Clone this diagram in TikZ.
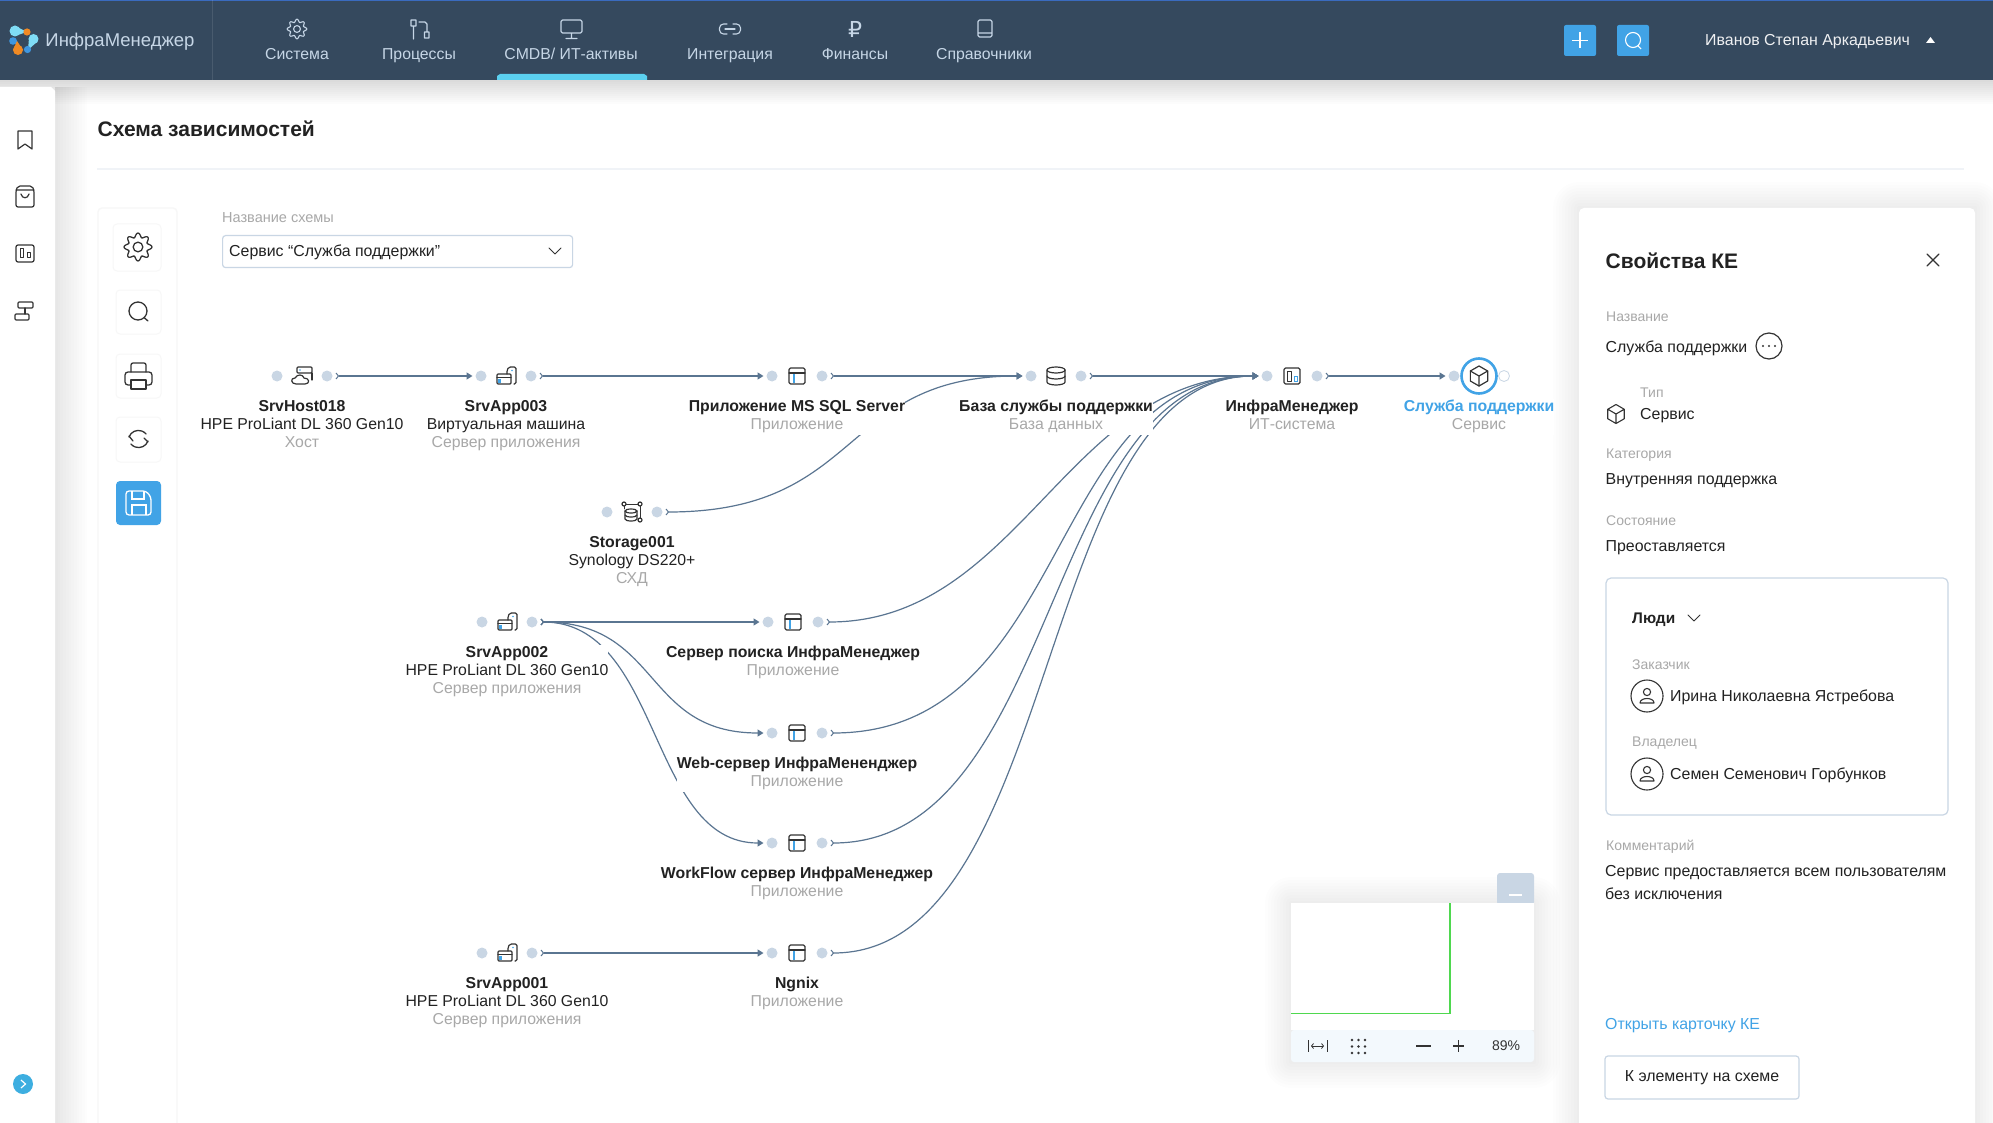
\documentclass[tikz,border=0pt]{standalone}
\usepackage{fontspec}
\setmainfont{Liberation Sans}
\newfontfamily\symfont{DejaVu Sans}
\usetikzlibrary{arrows.meta,positioning}
\definecolor{navbg}{HTML}{35495E}
\definecolor{navtext}{HTML}{C6D6E6}
\definecolor{topline}{HTML}{3A6BBF}
\definecolor{accent}{HTML}{41A3E6}
\definecolor{linkline}{HTML}{5A7591}
\definecolor{portdot}{HTML}{C9D6E4}
\definecolor{inktext}{HTML}{222222}
\definecolor{greytext}{HTML}{A8A8A8}
\definecolor{icoline}{HTML}{333333}
\definecolor{logocyan}{HTML}{7FDCF5}
\definecolor{logoblue}{HTML}{3F97E0}
\definecolor{logoorange}{HTML}{F08A24}
\definecolor{tabblue}{HTML}{5BD0F0}
\definecolor{hintblue}{HTML}{3DAEE0}
\definecolor{rulegrey}{HTML}{F0F3F7}
\definecolor{mapgreen}{HTML}{4FD84F}
\definecolor{footbg}{HTML}{F3F9FD}
\newcommand{\fs}[1]{\fontsize{#1}{18}\selectfont}
\newcommand{\softshadow}[4]{%
  \foreach \sz in {26,23,...,2}
  {
    \fill[black,opacity=.007,rounded corners=\sz pt] (#1-\sz,#2-\sz) rectangle (#3+\sz,#4+\sz);
  }
}
\tikzset{
  port/.style={circle, fill=portdot, minimum size=11pt, inner sep=0, outer sep=3pt},
  cilabel/.style={fill=white, inner xsep=0, inner ysep=0, align=center, anchor=north, font=\fs{15.8}, text=inktext},
  straightlink/.style={draw=linkline, line width=1.4pt, {Straight Barb[reversed,length=2.5pt,width=6pt,line width=1pt]}-{Triangle[length=6pt,width=7pt]}},
  curvelink/.style={draw=linkline, line width=1.2pt, {Straight Barb[reversed,length=2.5pt,width=6pt,line width=1pt]}-{Triangle[length=6pt,width=7pt]}},
  navitem/.style={text=navtext, font=\fs{15.8}},
  fieldcap/.style={text=greytext, font=\fs{14}, anchor=west, inner sep=0},
  fieldval/.style={text=inktext, font=\fs{15.9}, anchor=west, inner sep=0},
  toolbtn/.style={fill=white, draw=black!3, line width=1pt, rounded corners=4pt},
  ico/.style={draw=icoline, line width=1.2pt, line join=round, line cap=round},
  navico/.style={draw=navtext, line width=1.1pt, line join=round, line cap=round},
  pics/winicon/.style={code={
    \draw[ico, rounded corners=1.5pt] (-8,-8) rectangle (8,8);
    \draw[ico] (-8,-3) -- (8,-3);
    \draw[accent, line width=1.1pt] (-3,-2) -- (-3,7);
  }},
  pics/dbicon/.style={code={
    \draw[ico] (0,-6) ellipse (9 and 3);
    \draw[ico] (-9,-6) -- (-9,6) arc[start angle=180,end angle=360,x radius=9,y radius=-3] -- (9,-6);
    \draw[ico] (-9,0) arc[start angle=180,end angle=360,x radius=9,y radius=-3];
  }},
  pics/sysicon/.style={code={
    \draw[ico, rounded corners=1.5pt] (-8,-8) rectangle (8,8);
    \draw[ico, line width=1pt] (-4.5,-5) rectangle (-1,5);
    \draw[accent, line width=1pt] (2,0) rectangle (5,5);
  }},
  pics/cubeicon/.style={code={
    \draw[ico] (90:10) -- (30:10) -- (-30:10) -- (-90:10) -- (-150:10) -- (150:10) -- cycle;
    \draw[ico] (-150:10) -- (0,0) -- (-30:10) (0,0) -- (90:10);
  }},
  pics/appicon/.style={code={
    \draw[ico, rounded corners=1pt] (-9,-2) rectangle (5,8);
    \draw[ico] (-9,1.5) -- (5,1.5);
    \fill[accent] (-8,2.5) rectangle (-5,7);
    \draw[ico, rounded corners=1.5pt] (1,-2) -- (1,-6) -- (3,-9) -- (10,-9) -- (10,8) -- (8,8);
    \fill[accent] (6,-5.5) circle (.8);
  }},
  pics/hosticon/.style={code={
    \draw[ico, rounded corners=1pt] (-5,-9) rectangle (10,-3);
    \draw[ico] (10,-3) -- (10,4);
    \draw[ico] (-6,8) .. controls (-11,8) and (-12,2) .. (-7,2) .. controls (-5,-2) and (1,-2) .. (2,2) .. controls (8,2) and (8,8) .. (3,8) -- cycle;
    \fill[accent] (-2,-6) circle (.8);
  }},
  pics/storeicon/.style={code={
    \draw[ico] (-1,-1) ellipse (6 and 2);
    \draw[ico] (-7,-1) -- (-7,7) arc[start angle=180,end angle=360,x radius=6,y radius=-2] -- (5,-1);
    \draw[ico] (-7,3) arc[start angle=180,end angle=360,x radius=6,y radius=-2];
    \draw[ico] (-8,-8) circle (2) (8,-8) circle (2) (8,8) circle (2);
    \draw[ico, line width=.9pt] (-6,-8) -- (6,-8) (8,-6) -- (8,6) (-8,-6) -- (-8,-3);
  }},
  pics/gearicon/.style={code={
    \draw[ico, variable=\q, domain=0:360, samples=97, smooth] plot (\q:{#1*(.88+.15*cos(8*\q))});
    \draw[ico] (0,0) circle ({#1*.36});
  }}
}
\begin{document}
\begin{tikzpicture}[x=1pt,y=-1pt]
  \useasboundingbox (0,0) rectangle (1993,1123);
  \fill[white] (0,0) rectangle (1993,1123);

  % shadows
  \foreach \i in {1,...,12}
  {
    \fill[black,opacity=.012] (0,80) rectangle (1993,80+2*\i);
    \fill[black,opacity=.009] (55,87) rectangle (55+2.7*\i,1123);
  }
  \softshadow{1579}{208}{1975}{1150}
  \softshadow{1291}{903}{1534}{1062}

  % top bar
  \fill[navbg] (0,0) rectangle (1993,80);
  \fill[topline] (0,0) rectangle (1993,1.2);
  \draw[white,opacity=.1] (212,0) -- (212,80);
  \fill[white] (0,87) -- (51,87) -- (55,91) -- (55,1123) -- (0,1123) -- cycle;

  % logo
  \fill[logocyan] (15,31) circle (5.5);
  \fill[logocyan] (15,26) -- (27,32) -- (15,36) -- cycle;
  \fill[logoorange] (27,32) circle (3.6);
  \fill[logocyan] (33.5,39) circle (5);
  \fill[logocyan] (29,38) -- (38,41) -- (28,50) -- cycle;
  \fill[logoblue] (27.5,49.5) circle (3.6);
  \fill[logoblue] (13,41) circle (3.8);
  \fill[logoblue] (9.5,40) -- (16,39) -- (19,46) -- cycle;
  \fill[logoorange] (18,50) circle (5);
  \fill[logoorange] (13,50) -- (23,50) -- (17,41) -- cycle;
  \node[navitem, font=\fs{18.5}] (brand) at (120,42) {ИнфраМенеджер};

  % menu
  \foreach \n/\x/\ttl in {sys/297/Система, proc/419/Процессы, cmdb/571/{CMDB/ ИТ-активы}, integ/730/Интеграция, fin/855/Финансы, refs/984/Справочники}
  {
    \node[navitem, anchor=base] (m\n) at (\x,60) {\ttl};
  }
  \fill[tabblue] (497,80) -- (497,76) -- (500,74) -- (644,74) -- (647,76) -- (647,80) -- cycle;
  \pic[ico/.style=navico] at (297,29) {gearicon=9.5};
  \draw[navico] (411,20) rectangle (416,26) (413.5,26) -- (413.5,39) (419,22) -- (425,22) -- (427,24) -- (427,32) (424.5,32) rectangle (429,38);
  \draw[navico, rounded corners=1.5pt] (561,20) rectangle (582,33) (571.5,33) -- (571.5,38) (566,38.5) -- (577,38.5);
  \draw[navico, rounded corners=4pt] (727,24) -- (719.5,24) -- (719.5,34) -- (727,34) (733,24) -- (740.5,24) -- (740.5,34) -- (733,34);
  \draw[navico] (725,29) -- (735,29);
  \node[text=navtext, font=\symfont\fs{22}, inner sep=0] (rub) at (855,29) {₽};
  \draw[navico, rounded corners=1.5pt] (978,20) rectangle (992,37) (978,33) -- (992,33);

  \node[fill=accent, rounded corners=2pt, minimum width=32pt, minimum height=31pt, inner sep=0] (btnadd) at (1580,40.5) {};
  \draw[white, line width=1.1pt] (1572,40.5) -- (1588,40.5) (1580,32.5) -- (1580,48.5);
  \node[fill=accent, rounded corners=2pt, minimum width=32pt, minimum height=31pt, inner sep=0] (btnfind) at (1633,40.5) {};
  \draw[white, line width=1.1pt] (1633,40) circle (7.5) (1638,46) -- (1641,49);
  \node[navitem, text=white!92!navbg, anchor=west, inner sep=0, font=\fs{15.9}] (user) at (1705,41.5) {Иванов Степан Аркадьевич};
  \fill[white] (1926,43) -- (1930.5,37) -- (1935,43) -- cycle;

  % left icons
  \draw[ico] (18,131) -- (32,131) -- (32,149) -- (25,144) -- (18,149) -- cycle;
  \draw[ico, rounded corners=2pt] (16,190) -- (18,186) -- (32,186) -- (34,190) -- (34,207) -- (16,207) -- cycle;
  \draw[ico] (16,190) -- (34,190) (21,194) .. controls (22,199) and (28,199) .. (29,194);
  \draw[ico, rounded corners=2pt] (16,245) rectangle (34,262);
  \draw[ico, line width=1pt] (20,249) rectangle (23,258) (27,253) rectangle (30,258);
  \draw[ico, rounded corners=1pt] (18,302) rectangle (33,308) (15,314) rectangle (29,320);
  \draw[ico] (25,308) -- (25,314);
  \fill[hintblue] (23,1084) circle (10);
  \draw[white, line width=1.2pt] (21,1080) -- (25.5,1084) -- (21,1088);

  % heading
  \node[anchor=west, inner sep=0, text=inktext, font=\bfseries\fs{21}] (title) at (97.5,129) {Схема зависимостей};
  \draw[rulegrey, line width=1.4pt] (97,169) -- (1964,169);

  % tools
  \draw[black!3, fill=white, line width=1.4pt, rounded corners=4pt] (98,1130) -- (98,208) -- (177,208) -- (177,1130);
  \draw[toolbtn] (113,224) rectangle (161,271);
  \draw[toolbtn] (116,290) rectangle (161,334);
  \draw[toolbtn] (116,354) rectangle (161,398);
  \draw[toolbtn] (116,417) rectangle (161,462);
  \fill[accent, rounded corners=4pt] (116,481) rectangle (161,525);
  \pic[ico/.append style={line width=1.3pt}] at (138,247) {gearicon=13.5};
  \draw[ico, line width=1.3pt] (138,311) circle (9) (144.5,318) -- (148,321);
  \draw[ico, line width=1.3pt, rounded corners=2pt] (131,372) -- (131,363) -- (146,363) -- (146,372);
  \draw[ico, line width=1.3pt, rounded corners=3pt] (131,385) -- (125,385) -- (125,372) -- (152,372) -- (152,385) -- (146,385);
  \draw[ico, line width=1.3pt] (131,380) rectangle (146,389);
  \draw[ico, line width=1.3pt] (129,437) arc[start angle=200,end angle=320,radius=10] (148,441) arc[start angle=20,end angle=140,radius=10];
  \draw[ico, line width=1.3pt] (129,436) -- (133,441) (148,442) -- (144,438);
  \draw[white, line width=1.3pt, line join=round, rounded corners=3pt] (126,491) -- (146,491) -- (151,497) -- (151,515) -- (126,515) -- cycle;
  \draw[white, line width=1.3pt] (132,491) -- (132,499) -- (144,499) -- (144,491) (132,515) -- (132,505) -- (146,505) -- (146,515);

  % scheme selector
  \node[fieldcap, font=\fs{14.5}] (schemacap) at (222,218) {Название схемы};
  \node[draw=portdot, line width=1.2pt, rounded corners=3pt, minimum width=350pt, minimum height=32pt, anchor=north west] (schema) at (222,235) {};
  \node[fieldval] (schemaval) at (229,252) {Сервис “Служба поддержки”};
  \draw[ico, line width=1pt] (549,248) -- (555,254) -- (561,248);

  % links
  \coordinate (sink) at (1479,376);
  \foreach \n/\x/\y in {host18/302/376, app3/506/376, mssql/797/376, dbase/1056/376, infra/1292/376, store/632/512, app2/507/622, find/793/622, web/797/733, flow/797/843, app1/507/953, ngx/797/953}
  {
    \path (\x-25,\y) node[port] (\n-i) {};
    \path (\x+25,\y) node[port] (\n-o) {};
  }
  \path (1454,376) node[port] (svc-i) {};
  \path (1504,376) node[port, fill=white, draw=portdot, line width=.8pt] (svc-o) {};

  \draw[straightlink] (host18-o) -- (app3-i);
  \draw[straightlink] (app3-o) -- (mssql-i);
  \draw[straightlink] (mssql-o) -- (dbase-i);
  \draw[straightlink] (dbase-o) -- (infra-i);
  \draw[straightlink] (infra-o) -- (svc-i);
  \draw[straightlink] (app2-o) -- (find-i);
  \draw[straightlink] (app1-o) -- (ngx-i);
  \draw[curvelink] (store-o.east) .. controls +(199,0) and +(-184,0) .. (dbase-i.west);
  \draw[curvelink] (app2-o.east) .. controls +(121,0) and +(-121,0) .. (web-i.west);
  \draw[curvelink] (app2-o.east) .. controls +(121,0) and +(-115,0) .. (flow-i.west);
  \draw[curvelink] (find-o.east) .. controls +(193,0) and +(-190,0) .. (infra-i.west);
  \draw[curvelink] (web-o.east) .. controls +(242,0) and +(-214,0) .. (infra-i.west);
  \draw[curvelink] (flow-o.east) .. controls +(230,0) and +(-216,0) .. (infra-i.west);
  \draw[curvelink] (ngx-o.east) .. controls +(232,0) and +(-224,0) .. (infra-i.west);

  % nodes
  \foreach \n/\x/\y/\ic/\ttl/\sub/\kind in {host18/302/376/hosticon/SrvHost018/HPE ProLiant DL 360 Gen10/Хост, app3/506/376/appicon/SrvApp003/Виртуальная машина/Сервер приложения, store/632/512/storeicon/Storage001/Synology DS220+/СХД, app2/507/622/appicon/SrvApp002/HPE ProLiant DL 360 Gen10/Сервер приложения, app1/507/953/appicon/SrvApp001/HPE ProLiant DL 360 Gen10/Сервер приложения}
  {
    \pic at (\x,\y) {\ic};
    \node[cilabel] (\n-t) at (\x,\y+23) {\strut\textbf{\ttl}\\\strut\sub\\\strut\textcolor{greytext}{\kind}};
  }
  \foreach \n/\x/\y/\ic/\ttl/\kind in {mssql/797/376/winicon/Приложение MS SQL Server/Приложение, dbase/1056/376/dbicon/База службы поддержки/База данных, infra/1292/376/sysicon/ИнфраМенеджер/ИТ-система, find/793/622/winicon/Сервер поиска ИнфраМенеджер/Приложение, web/797/733/winicon/Web-сервер ИнфраМененджер/Приложение, flow/797/843/winicon/WorkFlow сервер ИнфраМенеджер/Приложение, ngx/797/953/winicon/Ngnix/Приложение}
  {
    \pic at (\x,\y) {\ic};
    \node[cilabel] (\n-t) at (\x,\y+23) {\strut\textbf{\ttl}\\\strut\textcolor{greytext}{\kind}};
  }
  \node[circle, draw=accent, fill=white, line width=2.6pt, minimum size=35pt, inner sep=0] (svc) at (sink) {};
  \pic at (sink) {cubeicon};
  \node[cilabel] (svc-t) at (1479,399) {\strut\textcolor{accent}{\textbf{Служба поддержки}}\\\strut\textcolor{greytext}{Сервис}};

  % minimap
  \fill[white] (1291,903) rectangle (1534,1030);
  \fill[footbg, rounded corners=3pt] (1291,1030) rectangle (1534,1062);
  \fill[portdot, rounded corners=3pt] (1497,905) -- (1497,873) -- (1534,873) -- (1534,905) -- cycle;
  \fill[white] (1491,903) rectangle (1534,908);
  \draw[white, line width=1.2pt] (1509,895) -- (1522,895);
  \draw[mapgreen, line width=1.3pt] (1291,1013.5) -- (1450,1013.5) -- (1450,903);
  \draw[icoline, line width=1pt] (1308,1040) -- (1308,1052) (1327,1040) -- (1327,1052);
  \draw[icoline, line width=.8pt, {Straight Barb[length=2pt,width=5pt]}-{Straight Barb[length=2pt,width=5pt]}] (1311,1046) -- (1324,1046);
  \foreach \i in {0,1,2}
  {
    \foreach \j in {0,1,2}
    {
      \fill[icoline] (1352+\i*6.5,1040+\j*6.5) circle (1.3);
    }
  }
  \draw[icoline, line width=1.1pt] (1416,1046) -- (1431,1046) (1453,1046) -- (1464,1046) (1458.5,1040) -- (1458.5,1052);
  \node[inner sep=0, text=icoline, font=\fs{14}] (zoomval) at (1506,1046) {89\%};

  % properties panel
  \fill[white, rounded corners=5pt] (1579,208) rectangle (1975,1150);
  \node[anchor=west, inner sep=0, text=inktext, font=\bfseries\fs{21}] (proptitle) at (1605.5,261) {Свойства КЕ};
  \draw[ico, line width=1.2pt] (1927,254) -- (1939,266) (1939,254) -- (1927,266);
  \node[fieldcap] (capname) at (1606,317) {Название};
  \node[fieldval] (valname) at (1605.5,348) {Служба поддержки};
  \node[circle, draw=icoline, line width=1.2pt, minimum size=26pt, inner sep=0] (more) at (1769,346) {};
  \fill[icoline] (1763,346) circle (1.1) (1769,346) circle (1.1) (1775,346) circle (1.1);
  \node[fieldcap] (captype) at (1640,392.5) {Тип};
  \node[fieldval] (valtype) at (1640,416) {Сервис};
  \begin{scope}[shift={(1616,414)}]
    \draw[ico, line width=1.1pt] (90:9.5) -- (30:9.5) -- (-30:9.5) -- (-90:9.5) -- (-150:9.5) -- (150:9.5) -- cycle (-150:9.5) -- (0,0) -- (-30:9.5) (0,0) -- (90:9.5);
  \end{scope}
  \node[fieldcap] (capcat) at (1606,455) {Категория};
  \node[fieldval] (valcat) at (1605.5,481) {Внутренняя поддержка};
  \node[fieldcap] (capstate) at (1606,521) {Состояние};
  \node[fieldval] (valstate) at (1605.5,548) {Преоставляется};
  \draw[portdot, line width=1.2pt, rounded corners=5pt] (1606,578) rectangle (1948,815);
  \node[fieldval, font=\bfseries\fs{15.4}] (people) at (1632,620) {Люди};
  \draw[ico, line width=1pt] (1688,615) -- (1694,621) -- (1700,615);
  \node[fieldcap] (capcust) at (1632,665) {Заказчик};
  \node[fieldval] (valcust) at (1670,697) {Ирина Николаевна Ястребова};
  \node[fieldcap] (capown) at (1632,743) {Владелец};
  \node[fieldval] (valown) at (1670,775) {Семен Семенович Горбунков};
  \foreach \y in {696,774}
  {
    \draw[ico, line width=1.1pt] (1647,\y) circle (16);
    \draw[ico, line width=1.1pt] (1647,\y-4) circle (3.6);
    \draw[ico, line width=1.1pt] (1640,\y+7) .. controls (1640,\y+1) and (1654,\y+1) .. (1654,\y+7) -- cycle;
  }
  \node[fieldcap] (capnote) at (1606,847) {Комментарий};
  \node[fieldval] (valnote1) at (1605,873) {Сервис предоставляется всем пользователям};
  \node[fieldval] (valnote2) at (1605,894) {без исключения};
  \node[fieldval, text=accent] (openlink) at (1605,1026) {Открыть карточку КЕ};
  \node[draw=portdot, line width=1.2pt, rounded corners=3pt, minimum width=194pt, minimum height=43pt, inner sep=0, text=inktext, font=\fs{15.9}] (gotobtn) at (1702,1077.5) {К элементу на схеме};
\end{tikzpicture}
\end{document}
